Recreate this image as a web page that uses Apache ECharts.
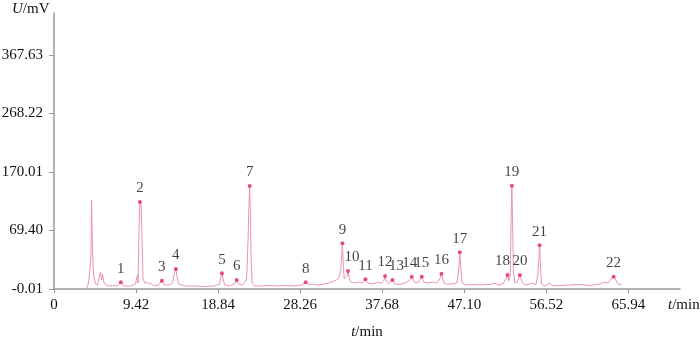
<!DOCTYPE html>
<html>
<head>
<meta charset="utf-8">
<script src="https://cdn.jsdelivr.net/npm/echarts@6/dist/echarts.min.js"></script>
<style>
  html, body { margin: 0; padding: 0; background: #fff; }
  #chart { width: 700px; height: 337px; }
</style>
</head>
<body>
<div id="chart"></div>
<script>
// chromatogram trace: retention time (min) and signal
var traceTime = [
  3.73, 3.96, 4.14, 4.25, 4.31, 4.42, 4.54, 4.77, 5.00, 5.23, 5.34, 5.46, 5.57, 5.74, 6.15, 6.72, 7.29, 7.67, 7.98, 8.67,
  9.13, 9.36, 9.57, 9.65, 9.76, 9.86, 10.00, 10.11, 10.22, 10.40, 10.63, 10.86, 11.09, 11.43, 12.00, 12.38, 12.69, 13.26, 13.61, 13.79,
  13.99, 14.16, 14.30, 14.65, 15.11, 16.14, 17.29, 18.44, 19.01, 19.18, 19.28, 19.41, 19.59, 20.16, 20.73, 20.97, 21.19, 21.65, 21.94, 22.11,
  22.28, 22.36, 22.46, 22.55, 22.63, 22.75, 23.03, 23.84, 24.76, 25.68, 26.59, 27.63, 28.43, 28.89, 29.24, 29.58, 30.27, 31.08, 31.88, 32.45,
  32.74, 32.91, 33.03, 33.11, 33.21, 33.31, 33.49, 33.66, 33.75, 33.89, 34.06, 34.52, 35.09, 35.44, 35.75, 36.01, 36.70, 37.16, 37.51, 37.85,
  38.00, 38.17, 38.43, 38.85, 39.12, 39.69, 40.26, 40.72, 41.07, 41.36, 41.76, 42.05, 42.22, 42.45, 42.91, 43.48, 43.94, 44.29, 44.48, 44.67,
  44.86, 45.66, 46.24, 46.47, 46.58, 46.70, 46.83, 47.27, 48.07, 48.88, 50.03, 50.60, 50.95, 51.52, 51.87, 52.06, 52.21, 52.38, 52.47, 52.56,
  52.65, 52.73, 52.90, 53.19, 53.48, 53.71, 54.05, 54.62, 54.97, 55.31, 55.54, 55.66, 55.74, 55.83, 55.94, 56.35, 56.92, 57.26, 58.07, 59.22,
  60.37, 61.52, 62.67, 63.24, 63.58, 63.93, 64.24, 64.50, 64.73, 65.16
];
var traceSignal = [
  0, 9.4, 33, 53, 140, 61, 22, 7.9, 6.3, 22, 26.7, 14, 23.6, 9.4, 4.7, 5.5, 4.7, 10.5, 4.7, 4.7,
  6.3, 7.9, 22, 9.4, 93, 136.8, 132, 77, 17, 9.4, 11, 7.9, 9.4, 4.7, 6.3, 13.1, 6.3, 6.3, 9.4, 23.6,
  31.5, 17, 7.9, 6.3, 4.7, 4.7, 3.9, 4.7, 7.9, 20.4, 24.7, 15.7, 6.3, 4.7, 7.9, 14.2, 7.9, 6.3, 11, 15.7,
  77, 124, 162, 116, 45.6, 9.4, 4.7, 4.7, 5.5, 4.7, 5.5, 4.7, 6.3, 10.5, 6.3, 7.9, 6.3, 7.9, 11, 14.2,
  18.9, 29.9, 53.5, 71.9, 37.7, 15.7, 12.6, 22, 28.3, 17.3, 11, 9.4, 11, 9.4, 15.3, 9.4, 7.9, 11, 8.6, 12.6,
  20.4, 11, 7.9, 14.2, 7.9, 7.1, 9.4, 12.6, 19.3, 11, 9.4, 15.7, 19.3, 11, 9.4, 11, 9.4, 15.7, 24.1, 14.2,
  7.9, 7.9, 9.4, 29.9, 57.7, 33, 9.4, 6.3, 7.1, 6.3, 7.1, 9.4, 6.3, 7.9, 15.7, 22, 12.6, 22, 108, 162.5,
  100.6, 29.9, 9.4, 11, 22, 11, 6.3, 7.9, 9.4, 6.3, 22, 48.8, 68.7, 42.5, 7.9, 4.7, 9.4, 4.7, 5.5, 6.3,
  7.1, 5.5, 7.9, 11, 9.4, 15.7, 19.3, 14.2, 7.9, 6.3
];

// numbered peaks
var peakNo = ['1', '2', '3', '4', '5', '6', '7', '8', '9', '10', '11', '12', '13', '14', '15', '16', '17', '18', '19', '20', '21', '22'];
var peakTime = [7.67, 9.86, 12.38, 13.99, 19.28, 20.97, 22.46, 28.89, 33.11, 33.75, 35.75, 38.00, 38.85, 41.07, 42.22, 44.48, 46.58, 52.06, 52.56, 53.48, 55.74, 64.24];
var peakSignal = [10.5, 136.8, 13.1, 31.5, 24.7, 14.2, 162, 10.5, 71.9, 28.3, 15.3, 20.4, 14.2, 19.3, 19.3, 24.1, 57.7, 22.0, 162.5, 22.0, 68.7, 19.3];

// axis ticks
var xTickValues = [0, 9.42, 18.84, 28.26, 37.68, 47.10, 56.52, 65.94];
var xTickLabels = ['0', '9.42', '18.84', '28.26', '37.68', '47.10', '56.52', '65.94'];
var yTickValues = [0, 92, 184, 276, 368];
var yTickLabels = ['-0.01', '69.40', '170.01', '268.22', '367.63'];

var FONT = 'Liberation Serif';
// small nudges so crowded labels sit like in the original
var labelShift = { '10': [4, 0], '13': [4, 0], '14': [-2, 0], '18': [-5, 0] };

var chart = echarts.init(document.getElementById('chart'));

var tracePoints = traceTime.map(function (t, i) { return [t, traceSignal[i]]; });
var peakPoints = peakTime.map(function (t, i) {
  return {
    value: [t, peakSignal[i]],
    name: peakNo[i],
    label: { offset: labelShift[peakNo[i]] || [0, 0] }
  };
});

chart.setOption({
  animation: false,
  grid: { left: 54, right: 20, top: 13, bottom: 48, outerBoundsMode: 'none' },
  xAxis: {
    type: 'value',
    min: 0,
    max: 71.86,
    name: '{i|t}/min',
    nameLocation: 'middle',
    nameGap: 36,
    nameTextStyle: {
      fontFamily: FONT, fontSize: 15, color: '#111',
      rich: { i: { fontFamily: FONT, fontSize: 15, fontStyle: 'italic', color: '#111' } }
    },
    splitLine: { show: false },
    axisLine: { lineStyle: { color: '#999', width: 1.5 } },
    axisTick: { customValues: xTickValues, length: 4, lineStyle: { color: '#999' } },
    axisLabel: {
      customValues: xTickValues,
      margin: 9,
      fontFamily: FONT, fontSize: 15, color: '#111',
      formatter: function (v) {
        var i = xTickValues.indexOf(v);
        return i < 0 ? '' : xTickLabels[i];
      }
    }
  },
  yAxis: {
    type: 'value',
    min: 0,
    max: 434,
    splitLine: { show: false },
    axisLine: { show: true, lineStyle: { color: '#999', width: 1.5 } },
    axisTick: { show: true, customValues: yTickValues, length: 5, lineStyle: { color: '#999' } },
    axisLabel: {
      customValues: yTickValues,
      margin: 11,
      fontFamily: FONT, fontSize: 15, color: '#111',
      formatter: function (v) {
        var i = yTickValues.indexOf(v);
        return i < 0 ? '' : yTickLabels[i];
      }
    }
  },
  graphic: [
    {
      type: 'text', left: 12, top: 2,
      style: {
        text: '{i|U}/mV', fill: '#111', font: '15px ' + FONT,
        rich: { i: { fontStyle: 'italic', fontFamily: FONT, fontSize: 15 } }
      }
    },
    {
      type: 'text', left: 668, top: 298,
      style: {
        text: '{i|t}/min', fill: '#111', font: '15px ' + FONT,
        rich: { i: { fontStyle: 'italic', fontFamily: FONT, fontSize: 15 } }
      }
    }
  ],
  series: [
    {
      name: 'trace',
      type: 'line',
      data: tracePoints,
      symbol: 'none',
      lineStyle: { color: '#eb93b1', width: 1 },
      z: 1
    },
    {
      name: 'peaks',
      type: 'scatter',
      data: peakPoints,
      symbolSize: 4,
      itemStyle: { color: '#e5245e' },
      label: {
        show: true,
        position: 'top',
        distance: 4,
        formatter: '{b}',
        fontFamily: FONT, fontSize: 15, color: '#111'
      },
      z: 3
    }
  ]
});
</script>
</body>
</html>
